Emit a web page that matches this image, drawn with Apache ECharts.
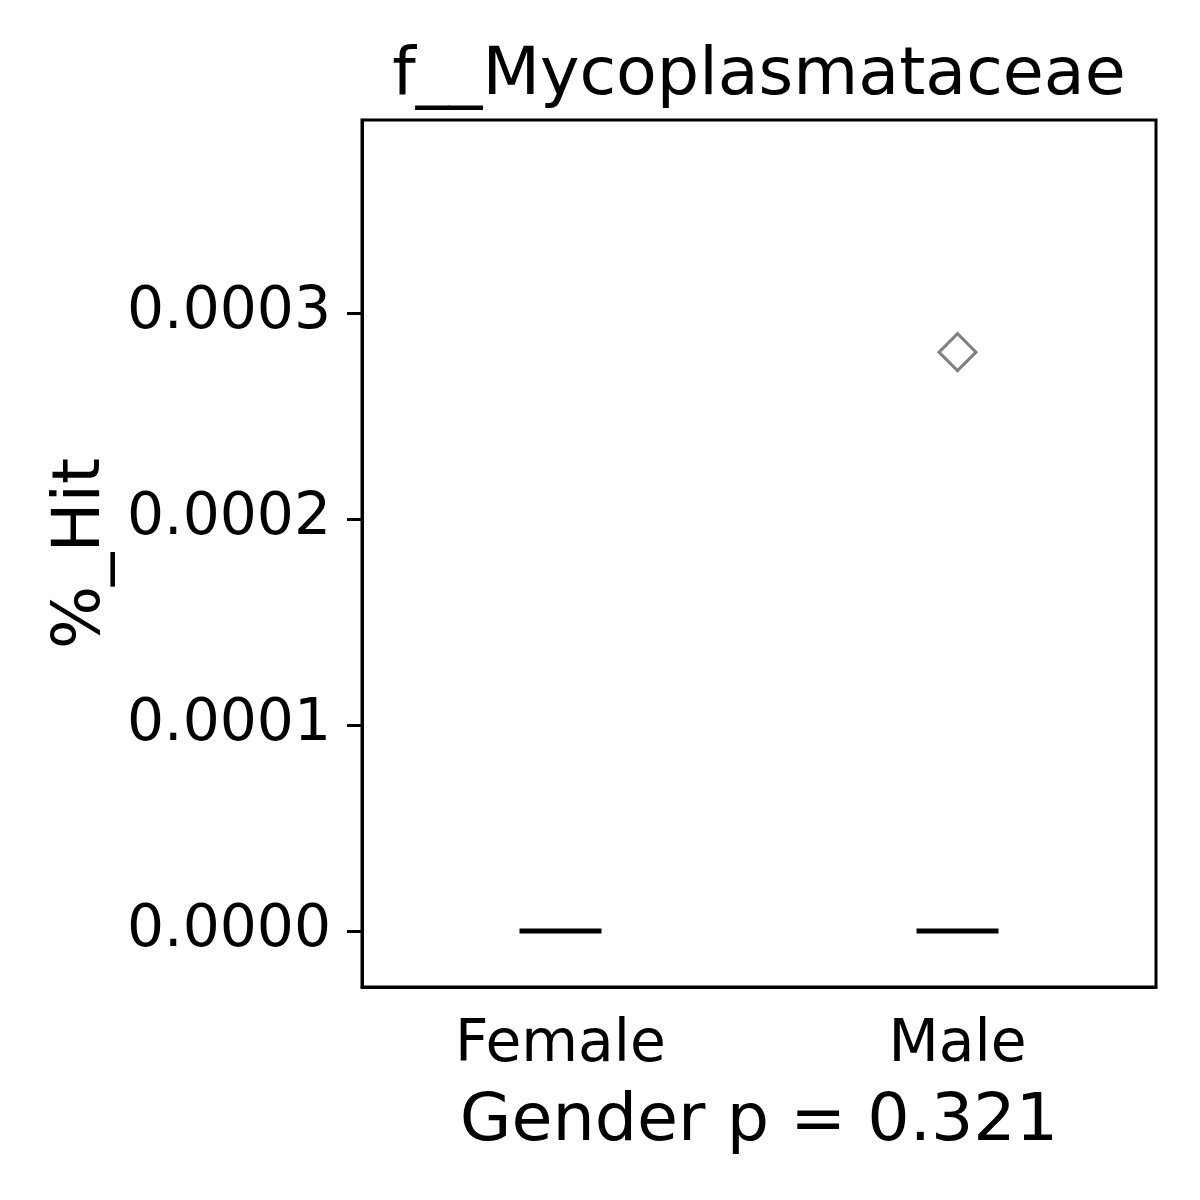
<!DOCTYPE html>
<html>
<head>
<meta charset="utf-8">
<script src="https://cdn.jsdelivr.net/npm/echarts@6/dist/echarts.min.js"></script>
<style>html,body{margin:0;padding:0;background:#fff}#c{width:1200px;height:1200px}</style>
</head>
<body>
<div id="c"></div>
<script>
const title = 'f__Mycoplasmataceae';
const categories = ['Female', 'Male'];
// five-number summaries [min, Q1, median, Q3, max]
const femaleBox = [0, 0, 0, 0, 0];
const maleBox = [0, 0, 0, 0, 0];
const outliers = [['Male', 0.000281]];
const yTicks = [0, 0.0001, 0.0002, 0.0003];
const yMin = -0.0000272;
const yMax = 0.0003937;

const FONT = 'DejaVu Sans';
const chart = echarts.init(document.getElementById('c'), null, {renderer: 'canvas'});
chart.setOption({
  animation: false,
  backgroundColor: '#fff',
  title: {
    text: title, left: 754, textAlign: 'center', top: 38,
    textStyle: {fontFamily: FONT, fontSize: 66.7, fontWeight: 'normal', color: '#000'}
  },
  grid: {left: 362, top: 120, right: 44, bottom: 213, show: true, borderColor: '#000', borderWidth: 3, backgroundColor: 'transparent'},
  xAxis: {
    type: 'category', data: categories, boundaryGap: true,
    name: 'Gender p = 0.321', nameLocation: 'middle', nameGap: 102,
    nameTextStyle: {fontFamily: FONT, fontSize: 66.7, color: '#000'},
    axisLine: {onZero: false, lineStyle: {color: '#000', width: 3}},
    axisTick: {alignWithLabel: true, length: 15, lineStyle: {color: '#000', width: 3}},
    axisLabel: {fontFamily: FONT, fontSize: 58.3, color: '#000', margin: 30},
    splitLine: {show: false}
  },
  yAxis: {
    type: 'value', min: yMin, max: yMax,
    name: '%_Hit', nameLocation: 'middle', nameGap: 247, nameRotate: 90,
    nameTextStyle: {fontFamily: FONT, fontSize: 66.7, color: '#000'},
    axisLine: {show: true, onZero: false, lineStyle: {color: '#000', width: 3}},
    axisTick: {show: true, length: 15, customValues: yTicks, lineStyle: {color: '#000', width: 3}},
    axisLabel: {fontFamily: FONT, fontSize: 58.3, color: '#000', margin: 31, customValues: yTicks,
      formatter: v => v.toFixed(4)},
    splitLine: {show: false}
  },
  series: [
    {
      type: 'boxplot',
      data: [femaleBox, maleBox],
      boxWidth: [82, 82],
      itemStyle: {color: '#fff', borderColor: '#000', borderWidth: 5, opacity: 1},
      emphasis: {disabled: true},
      silent: true
    },
    {
      type: 'scatter',
      data: outliers,
      symbol: 'diamond',
      symbolSize: [37, 37],
      itemStyle: {color: 'rgba(0,0,0,0)', borderColor: '#808080', borderWidth: 3, opacity: 1},
      emphasis: {disabled: true},
      silent: true
    }
  ]
});
</script>
</body>
</html>
